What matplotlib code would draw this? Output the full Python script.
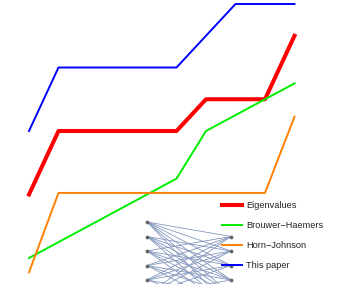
import matplotlib
matplotlib.use("Agg")
import matplotlib.pyplot as plt

# ---- data ----
k = list(range(10))
eigenvalues = [-2, 0, 0, 0, 0, 0, 1, 1, 1, 3]
brouwer_haemers = [-4, -3.5, -3, -2.5, -2, -1.5, 0, 0.5, 1, 1.5]
horn_johnson = [-4.45, -1.95, -1.95, -1.95, -1.95, -1.95, -1.95, -1.95, -1.95, 0.45]
this_paper = [0, 2, 2, 2, 2, 2, 3, 4, 4, 4]
labels = ["Eigenvalues", "Brouwer\u2212Haemers", "Horn\u2212Johnson", "This paper"]

# inset bipartite graph
left_nodes = [0, 1, 2, 3, 4, 5]
right_nodes = [0, 1, 2, 3, 4, 5]
edges = [(i, j) for i in left_nodes for j in right_nodes if i != j + 1]

plt.rcParams['font.family'] = ['Liberation Sans', 'DejaVu Sans']

W, H = 361, 284
fig = plt.figure(figsize=(W / 100, H / 100), dpi=100)

# inset graph axes (drawn underneath)
ax_in = fig.add_axes([147 / W, 1 - (222 + 5 * 14.5 + 14.5) / H, (231 - 147) / W, (5 * 14.5 + 14.5) / H])
ax_in.set_zorder(0)
for (i, j) in edges:
    ax_in.plot([0, 1], [-i, -j - 1], color='#8597bd', lw=0.6, solid_capstyle='round')
ax_in.scatter([0] * len(left_nodes), [-i for i in left_nodes], s=3, color='#666666', zorder=3)
ax_in.scatter([1] * len(right_nodes), [-j - 1 for j in right_nodes], s=3, color='#666666', zorder=3)
ax_in.set_xlim(0, 1)
ax_in.set_ylim(-6, 0)
ax_in.axis('off')
for a in ax_in.get_children():
    if hasattr(a, 'set_clip_on'):
        a.set_clip_on(False)

ax = fig.add_axes([0, 0, 1, 1])
ax.set_zorder(1)
ax.patch.set_alpha(0)
ax.plot(k, eigenvalues, color='#ff0000', lw=2.9, label=labels[0])
ax.plot(k, brouwer_haemers, color='#00ee00', lw=1.4, label=labels[1])
ax.plot(k, horn_johnson, color='#ff8000', lw=1.4, label=labels[2])
ax.plot(k, this_paper, color='#0000ff', lw=1.4, label=labels[3])

ax.set_xlim(-29 / 29.5, (W - 29) / 29.5)
ax.set_ylim(-(H - 131) / 31.75, 131 / 31.75)
ax.axis('off')

leg = ax.legend(loc='upper left', bbox_to_anchor=(222 / W, 1 - 201.5 / H), frameon=False,
                fontsize=6.6, handlelength=2.2, handletextpad=0.45, labelspacing=1.2,
                borderpad=0, borderaxespad=0)
for t in leg.get_texts():
    t.set_color('#222222')

fig.savefig("out.png", dpi=100)
